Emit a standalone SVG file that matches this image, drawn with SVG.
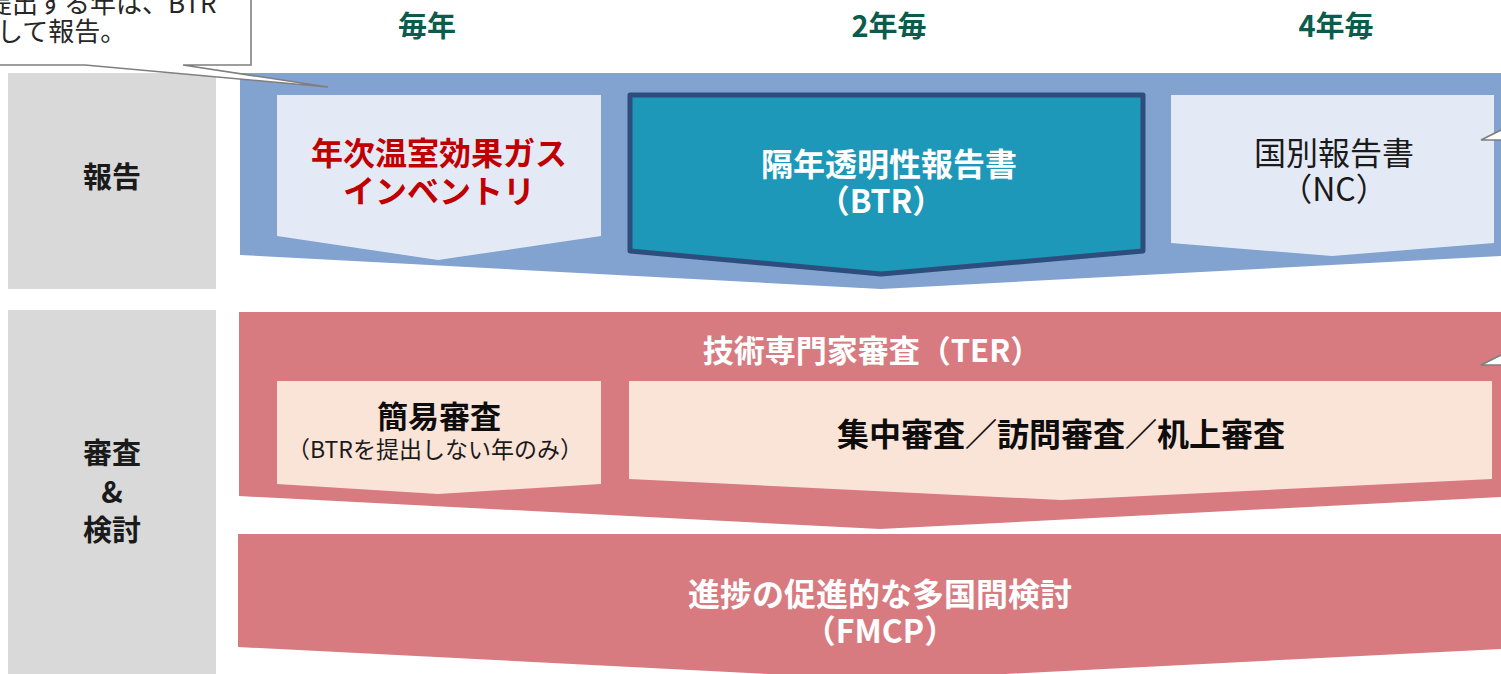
<svg xmlns="http://www.w3.org/2000/svg" width="1501" height="674" viewBox="0 0 1501 674">
<style>
text{font-family:"Noto Sans CJK JP","Noto Sans",sans-serif;text-anchor:middle}
.b{font-weight:700}
.hdr{font-size:29px;fill:#0b5c4c;font-weight:700}
.side{fill:#d9d9d9}
.sidet{font-size:29px;font-weight:700;fill:#1a1a1a}
.blue{fill:#82a2d0}
.pale{fill:#e4eaf5}
.red{fill:#d77b81}
.peach{fill:#fae4d8}
.wt{fill:#ffffff;font-weight:700}
.call{fill:#ffffff;stroke:#7f7f7f;stroke-width:1.6;stroke-linejoin:miter}
</style>

<g id="headers">
<text class="hdr" x="427" y="37">毎年</text>
<text class="hdr" x="889" y="37">2年毎</text>
<text class="hdr" x="1336" y="37">4年毎</text>
</g>

<g id="label-report">
<rect class="side" x="8" y="73" width="208" height="216"/>
<text class="sidet" x="112" y="188">報告</text>
</g>

<g id="label-review">
<rect class="side" x="8" y="310" width="208" height="370"/>
<text class="sidet" x="112" y="464">審査<tspan x="112" dy="39">&amp;</tspan><tspan x="112" dy="38">検討</tspan></text>
</g>

<g id="report-panel">
<polygon class="blue" points="240,73 1522,73 1522,255 881,289 240,255"/>
</g>

<g id="callout-top">
<path class="call" d="M-10,-10 L251,-10 L251,65 L183,65 L328,87 L85,65 L-10,65 Z"/>
<text x="-14" y="13" style="font-size:26px;text-anchor:start;fill:#262626">提出する年は、BTR<tspan x="-29" dy="28">として報告。</tspan></text>
</g>

<g id="inventory">
<polygon class="pale" points="277,95 601,95 601,236 438,260 277,236"/>
<text class="b" x="439" y="165" style="font-size:32px;fill:#c00000">年次温室効果ガス<tspan x="439" dy="38">インベントリ</tspan></text>
</g>

<g id="btr">
<polygon points="630,95 1143,95 1143,251 881,274 630,251" fill="#1d98b8" stroke="#2d4e7c" stroke-width="5" stroke-linejoin="round"/>
<text class="wt" x="889" y="176" style="font-size:32px">隔年透明性報告書<tspan x="881" dy="37">（BTR）</tspan></text>
</g>

<g id="nc">
<polygon class="pale" points="1171,95 1494,95 1494,243 1332,256 1171,243"/>
<text x="1334" y="165" style="font-size:32px;fill:#1a1a1a">国別報告書<tspan x="1334" dy="36">（NC）</tspan></text>
</g>

<g id="callout-right-1">
<polygon class="call" points="1503,129 1481,140 1503,140"/>
</g>

<g id="ter-panel">
<polygon class="red" points="239,312 1522,312 1522,496 880,529 239,496"/>
<text class="wt" x="872" y="362" style="font-size:31px">技術専門家審査（TER）</text>
</g>

<g id="callout-right-2">
<polygon class="call" points="1503,354 1481,365 1503,365"/>
</g>

<g id="simple-review">
<polygon class="peach" points="277,381 601,381 601,484 438,494 277,484"/>
<text class="b" x="439" y="428" style="font-size:31px;fill:#0d0d0d">簡易審査</text>
<text x="435" y="458" style="font-size:23px;fill:#1a1a1a">（BTRを提出しない年のみ）</text>
</g>

<g id="central-review">
<polygon class="peach" points="629,381 1492,381 1492,479 1061,500 629,479"/>
<text class="b" x="1061" y="446" style="font-size:32px;fill:#0d0d0d">集中審査／訪問審査／机上審査</text>
</g>

<g id="fmcp">
<polygon class="red" points="238,534 1540,534 1540,647 886,680 238,647"/>
<text class="wt" x="880" y="606" style="font-size:32px">進捗の促進的な多国間検討<tspan x="880" dy="37">（FMCP）</tspan></text>
</g>

<g id="connectors"></g>
</svg>
